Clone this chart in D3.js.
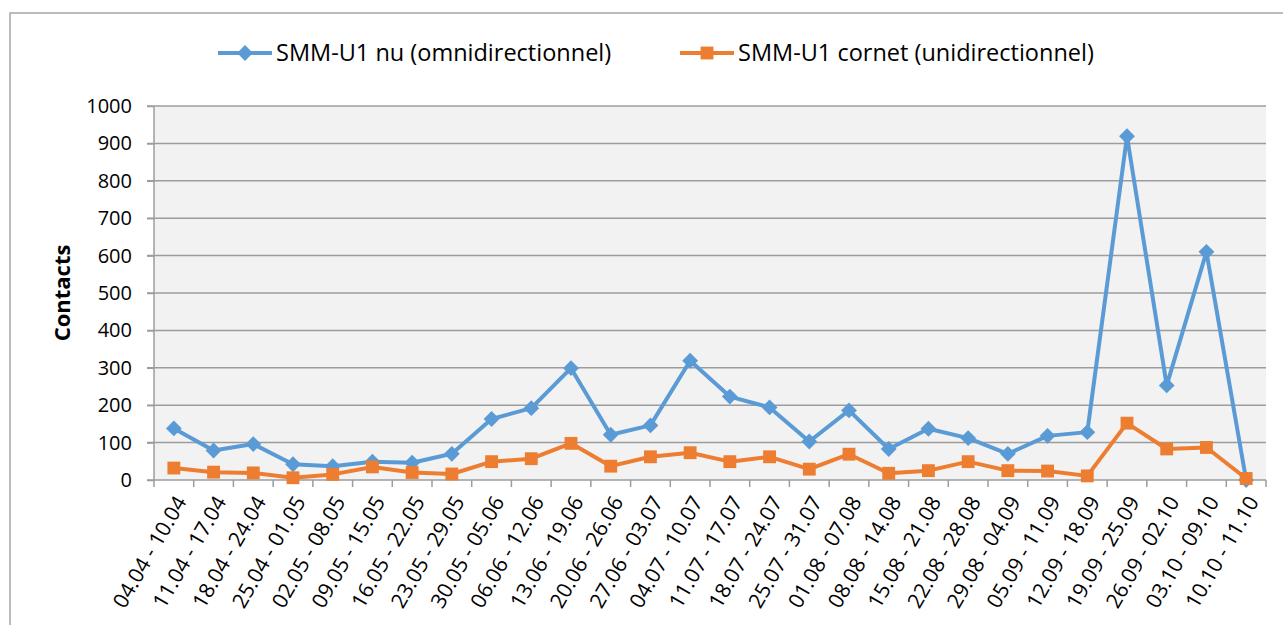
<!DOCTYPE html>
<html>
<head>
<meta charset="utf-8">
<script src="https://cdn.jsdelivr.net/npm/d3@7"></script>
<style>
  body { margin: 0; background: #fff; }
  svg { display: block; font-family: "Open Sans", sans-serif; }
</style>
</head>
<body>
<div id="chart"></div>
<script>
var width = 1283;
var height = 625;

// categories (weeks)
var weeks = ["04.04 - 10.04", "11.04 - 17.04", "18.04 - 24.04", "25.04 - 01.05", "02.05 - 08.05",
  "09.05 - 15.05", "16.05 - 22.05", "23.05 - 29.05", "30.05 - 05.06", "06.06 - 12.06",
  "13.06 - 19.06", "20.06 - 26.06", "27.06 - 03.07", "04.07 - 10.07", "11.07 - 17.07",
  "18.07 - 24.07", "25.07 - 31.07", "01.08 - 07.08", "08.08 - 14.08", "15.08 - 21.08",
  "22.08 - 28.08", "29.08 - 04.09", "05.09 - 11.09", "12.09 - 18.09", "19.09 - 25.09",
  "26.09 - 02.10", "03.10 - 09.10", "10.10 - 11.10"];
// series values
var omni = [138, 79, 96, 42, 37, 49, 46, 70, 163, 192, 299, 121, 146, 319, 223, 194, 103, 186, 83, 137, 112, 70, 118, 128, 919, 253, 610, 0];
var cornet = [32, 21, 19, 6, 15, 35, 20, 16, 49, 57, 98, 37, 62, 73, 49, 62, 29, 69, 18, 25, 49, 25, 24, 11, 152, 83, 87, 4];
var yTicks = [0, 100, 200, 300, 400, 500, 600, 700, 800, 900, 1000];
var seriesNames = ["SMM-U1 nu (omnidirectionnel)", "SMM-U1 cornet (unidirectionnel)"];

var blue = "#5b9bd5";
var orange = "#ed7d31";

var svg = d3.select("#chart").append("svg")
  .attr("width", width)
  .attr("height", height);

// chart border
svg.append("path")
  .attr("d", "M10,626 V13 H1283")
  .attr("fill", "none")
  .attr("stroke", "#a6a6a6")
  .attr("stroke-width", 1.5);

var plot = { left: 154, right: 1266, top: 106, bottom: 480 };

var xScale = d3.scaleBand().domain(weeks).range([plot.left, plot.right]);
var yScale = d3.scaleLinear().domain([0, 1000]).range([plot.bottom, plot.top]);

// plot background
svg.append("rect")
  .attr("x", plot.left)
  .attr("y", plot.top)
  .attr("width", plot.right - plot.left)
  .attr("height", plot.bottom - plot.top)
  .attr("fill", "#f2f2f2");

// gridlines
svg.append("g").selectAll("line")
  .data(yTicks.filter(function (d) { return d > 0; }))
  .enter().append("line")
  .attr("x1", plot.left - 7)
  .attr("x2", plot.right)
  .attr("y1", function (d) { return yScale(d); })
  .attr("y2", function (d) { return yScale(d); })
  .attr("stroke", "#9c9c9c")
  .attr("stroke-width", 1.5);

// y axis
var yAxis = d3.axisLeft(yScale).tickValues(yTicks).tickFormat(d3.format("d")).tickSize(7).tickPadding(15);
var yAxisGroup = svg.append("g")
  .attr("transform", "translate(" + plot.left + ",0)")
  .call(yAxis);
yAxisGroup.select(".domain").attr("stroke", "#9c9c9c").attr("stroke-width", 1.5)
  .attr("d", "M0," + plot.bottom + "V" + plot.top);
yAxisGroup.selectAll(".tick line").attr("stroke", "#9c9c9c").attr("stroke-width", 1.5);
yAxisGroup.selectAll(".tick text")
  .attr("font-size", 20)
  .attr("fill", "#000")
  .attr("font-family", "Open Sans, sans-serif");

// x axis: ticks at category boundaries
var xAxisGroup = svg.append("g");
xAxisGroup.append("line")
  .attr("x1", plot.left - 7).attr("x2", plot.right)
  .attr("y1", plot.bottom).attr("y2", plot.bottom)
  .attr("stroke", "#9c9c9c").attr("stroke-width", 1.5);
var boundaries = weeks.map(function (w) { return xScale(w); }).concat([plot.right]);
xAxisGroup.selectAll(".xt")
  .data(boundaries)
  .enter().append("line")
  .attr("class", "xt")
  .attr("x1", function (d) { return d; })
  .attr("x2", function (d) { return d; })
  .attr("y1", plot.bottom)
  .attr("y2", plot.bottom + 7)
  .attr("stroke", "#9c9c9c").attr("stroke-width", 1.5);

xAxisGroup.selectAll(".xl")
  .data(weeks)
  .enter().append("text")
  .attr("class", "xl")
  .attr("text-anchor", "end")
  .attr("font-size", 21)
  .attr("transform", function (d) {
    var cx = xScale(d) + xScale.bandwidth() / 2 + 7;
    return "translate(" + cx + "," + (plot.bottom + 18) + ") rotate(-60)";
  })
  .attr("dy", "0.35em")
  .text(function (d) { return d; });

// y title
svg.append("text")
  .attr("transform", "translate(70," + 293 + ") rotate(-90)")
  .attr("text-anchor", "middle")
  .attr("font-weight", "bold")
  .attr("font-size", 22)
  .text("Contacts");

// lines
var cx = function (d, i) { return xScale(weeks[i]) + xScale.bandwidth() / 2; };
var line = d3.line().x(cx).y(function (d) { return yScale(d); });

svg.append("path")
  .datum(omni)
  .attr("d", line)
  .attr("fill", "none")
  .attr("stroke", blue)
  .attr("stroke-width", 4)
  .attr("stroke-linejoin", "round");

svg.append("path")
  .datum(cornet)
  .attr("d", line)
  .attr("fill", "none")
  .attr("stroke", orange)
  .attr("stroke-width", 4)
  .attr("stroke-linejoin", "round");

var diamond = d3.symbol().type(d3.symbolDiamond2).size(160);
var square = d3.symbol().type(d3.symbolSquare).size(165);

svg.append("g").selectAll("path")
  .data(omni)
  .enter().append("path")
  .attr("d", diamond)
  .attr("transform", function (d, i) { return "translate(" + cx(d, i) + "," + yScale(d) + ")"; })
  .attr("fill", blue);

svg.append("g").selectAll("path")
  .data(cornet)
  .enter().append("path")
  .attr("d", square)
  .attr("transform", function (d, i) { return "translate(" + cx(d, i) + "," + yScale(d) + ")"; })
  .attr("fill", orange);

// legend
var legend = svg.append("g");
var legendItems = [
  { name: seriesNames[0], color: blue, sym: diamond, x: 218 },
  { name: seriesNames[1], color: orange, sym: square, x: 680 }
];
legendItems.forEach(function (item) {
  var g = legend.append("g").attr("transform", "translate(" + item.x + ",53)");
  g.append("line").attr("x1", 0).attr("x2", 54).attr("stroke", item.color).attr("stroke-width", 4);
  g.append("path").attr("d", item.sym).attr("transform", "translate(27,0)").attr("fill", item.color);
  g.append("text").attr("x", 58).attr("dy", "0.35em").attr("font-size", 23.5).text(item.name);
});
</script>
</body>
</html>
